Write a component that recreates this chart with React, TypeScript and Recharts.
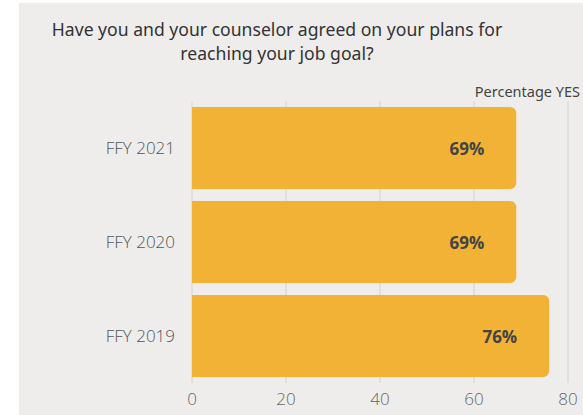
import { BarChart, Bar, XAxis, YAxis, CartesianGrid, LabelList } from 'recharts'

const years = ['FFY 2021', 'FFY 2020', 'FFY 2019']
const yesPct = [69, 69, 76]
const xTicks = [0, 20, 40, 60, 80]

const data = years.map((year, i) => ({ year, pct: yesPct[i] }))

function PctLabel(props: any) {
  const { x, y, width, height, value } = props
  return (
    <text
      x={x + width - 32}
      y={y + height / 2}
      textAnchor="end"
      dominantBaseline="central"
      fontFamily="'Open Sans', sans-serif"
      fontWeight={700}
      fontSize={17}
      fill="#444"
    >
      {`${value}%`}
    </text>
  )
}

export default function App() {
  return (
    <div style={{ position: 'absolute', left: 0, top: 0, width: 583, height: 415, background: '#fff' }}>
      <div style={{ position: 'absolute', left: 19, top: 3, width: 564, height: 412, background: '#eeedeb' }} />
      <div
        style={{
          position: 'absolute',
          left: 19,
          top: 17,
          width: 516,
          textAlign: 'center',
          fontFamily: "'Noto Sans', sans-serif",
          fontSize: 17.6,
          lineHeight: '24px',
          color: '#333',
        }}
      >
        Have you and your counselor agreed on your plans for
        <br />
        reaching your job goal?
      </div>
      <div
        style={{
          position: 'absolute',
          right: 3,
          top: 81,
          fontFamily: "'Noto Sans', sans-serif",
          fontSize: 14.5,
          color: '#444',
        }}
      >
        Percentage YES
      </div>
      <div style={{ position: 'absolute', left: 0, top: 0 }}>
        <BarChart
          width={583}
          height={415}
          data={data}
          layout="vertical"
          margin={{ top: 101, right: 15, bottom: 0, left: 0 }}
          barCategoryGap={6}
        >
          <CartesianGrid horizontal={false} stroke="#d2d2d2" />
          <XAxis
            type="number"
            domain={[0, 80]}
            ticks={xTicks}
            height={32}
            axisLine={false}
            tickLine={false}
            tickMargin={4}
            tick={{ fontSize: 17, fill: '#666', fontFamily: "'Open Sans', sans-serif", fontWeight: 300 }}
          />
          <YAxis
            type="category"
            dataKey="year"
            width={192}
            axisLine={false}
            tickLine={false}
            tickSize={0}
            tickMargin={17}
            tick={{ fontSize: 17, fill: '#555', fontFamily: "'Open Sans', sans-serif", fontWeight: 300 }}
          />
          <Bar dataKey="pct" fill="#f2b236" radius={[0, 6, 6, 0]} isAnimationActive={false}>
            <LabelList dataKey="pct" content={PctLabel} />
          </Bar>
        </BarChart>
      </div>
    </div>
  )
}
